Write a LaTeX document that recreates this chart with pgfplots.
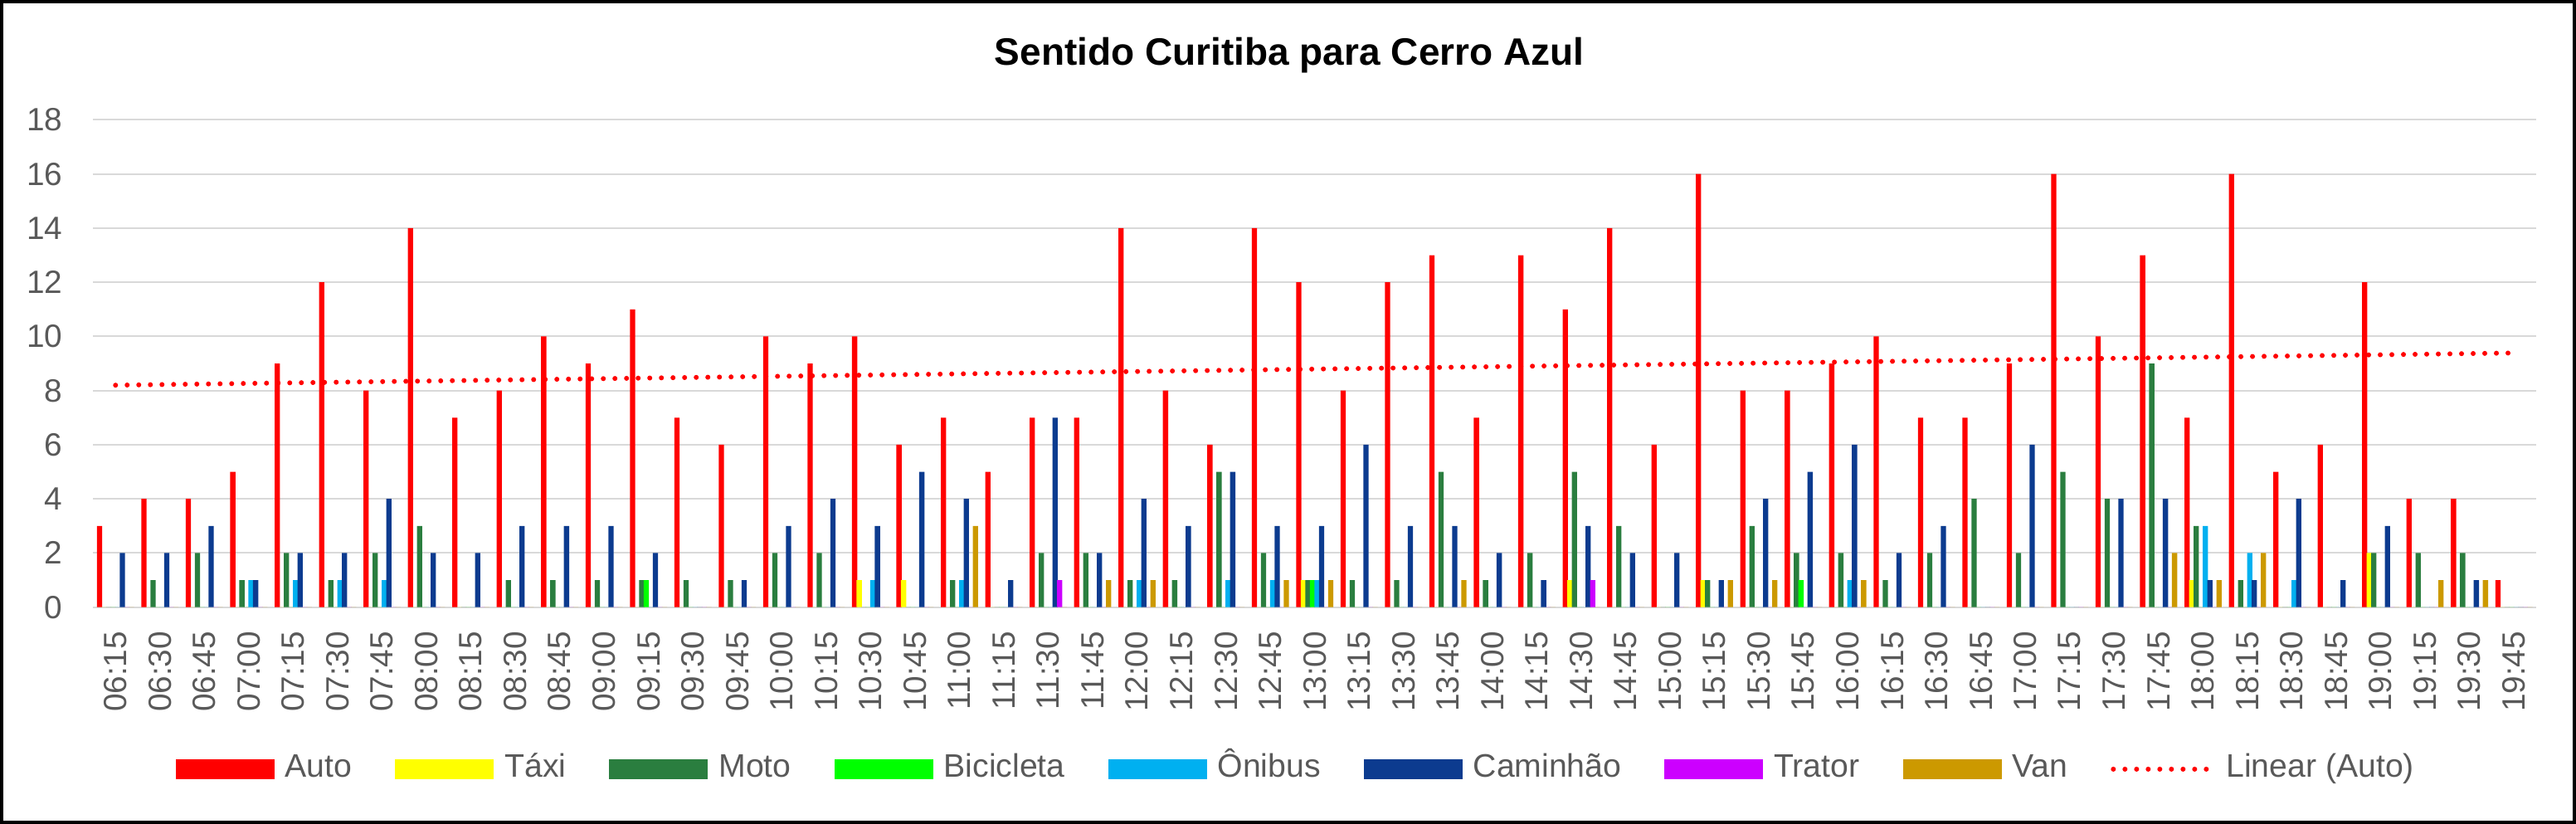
\documentclass[border=0pt]{standalone}
\usepackage{fontspec}
\setmainfont{Liberation Sans}
\usepackage{pgfplots}
\usepackage{pgfplotstable}
\pgfplotsset{compat=1.18}
\definecolor{cAuto}{HTML}{FF0000}
\definecolor{cTaxi}{HTML}{FFFF00}
\definecolor{cMoto}{HTML}{2A7E3F}
\definecolor{cBici}{HTML}{00FF00}
\definecolor{cOnib}{HTML}{00B0F0}
\definecolor{cCam}{HTML}{0C3B8F}
\definecolor{cTrat}{HTML}{CC00FF}
\definecolor{cVan}{HTML}{CC9900}
\definecolor{cText}{HTML}{595959}
\definecolor{cGrid}{HTML}{D9D9D9}
\pgfplotsset{barleg/.style={legend image code/.code={\fill[##1] (0pt,-3pt) rectangle (29.75pt,3pt);}},
  lineleg/.style={legend image code/.code={\draw[##1] (0pt,0pt) -- (30pt,0pt);}}}
\pgfplotstableread{
k a t m b o c r v
0 3 0 0 0 0 2 0 0
1 4 0 1 0 0 2 0 0
2 4 0 2 0 0 3 0 0
3 5 0 1 0 1 1 0 0
4 9 0 2 0 1 2 0 0
5 12 0 1 0 1 2 0 0
6 8 0 2 0 1 4 0 0
7 14 0 3 0 0 2 0 0
8 7 0 0 0 0 2 0 0
9 8 0 1 0 0 3 0 0
10 10 0 1 0 0 3 0 0
11 9 0 1 0 0 3 0 0
12 11 0 1 1 0 2 0 0
13 7 0 1 0 0 0 0 0
14 6 0 1 0 0 1 0 0
15 10 0 2 0 0 3 0 0
16 9 0 2 0 0 4 0 0
17 10 1 0 0 1 3 0 0
18 6 1 0 0 0 5 0 0
19 7 0 1 0 1 4 0 3
20 5 0 0 0 0 1 0 0
21 7 0 2 0 0 7 1 0
22 7 0 2 0 0 2 0 1
23 14 0 1 0 1 4 0 1
24 8 0 1 0 0 3 0 0
25 6 0 5 0 1 5 0 0
26 14 0 2 0 1 3 0 1
27 12 1 1 1 1 3 0 1
28 8 0 1 0 0 6 0 0
29 12 0 1 0 0 3 0 0
30 13 0 5 0 0 3 0 1
31 7 0 1 0 0 2 0 0
32 13 0 2 0 0 1 0 0
33 11 1 5 0 0 3 1 0
34 14 0 3 0 0 2 0 0
35 6 0 0 0 0 2 0 0
36 16 1 1 0 0 1 0 1
37 8 0 3 0 0 4 0 1
38 8 0 2 1 0 5 0 0
39 9 0 2 0 1 6 0 1
40 10 0 1 0 0 2 0 0
41 7 0 2 0 0 3 0 0
42 7 0 4 0 0 0 0 0
43 9 0 2 0 0 6 0 0
44 16 0 5 0 0 0 0 0
45 10 0 4 0 0 4 0 0
46 13 0 9 0 0 4 0 2
47 7 1 3 0 3 1 0 1
48 16 0 1 0 2 1 0 2
49 5 0 0 0 1 4 0 0
50 6 0 0 0 0 1 0 0
51 12 2 2 0 0 3 0 0
52 4 0 2 0 0 0 0 1
53 4 0 2 0 0 1 0 1
54 1 0 0 0 0 0 0 0
}\data
\pgfplotstableread{
k y
0 8.20
54 9.39
}\trend
\begin{document}
\begin{tikzpicture}
\begin{axis}[
  at={(0,0)}, anchor=south west,
  scale only axis, width=736.1pt, height=146.8pt,
  ybar=-0.2pt, bar width=1.575pt,
  xmin=-0.5, xmax=54.5, ymin=0, ymax=18,
  ytick={0,2,...,18},
  xtick={0,...,54},
  xticklabels={06:15,06:30,06:45,07:00,07:15,07:30,07:45,08:00,08:15,08:30,08:45,09:00,09:15,09:30,09:45,10:00,10:15,10:30,10:45,11:00,11:15,11:30,11:45,12:00,12:15,12:30,12:45,13:00,13:15,13:30,13:45,14:00,14:15,14:30,14:45,15:00,15:15,15:30,15:45,16:00,16:15,16:30,16:45,17:00,17:15,17:30,17:45,18:00,18:15,18:30,18:45,19:00,19:15,19:30,19:45},
  axis line style={draw=none},
  major tick length=0pt,
  ymajorgrids, grid style={color=cGrid, line width=0.5pt},
  /pgf/number format/assume math mode=true,
  ticklabel style={font=\fontsize{9.7}{11}\selectfont, text=cText},
  yticklabel style={anchor=east, inner sep=0pt, xshift=-9.1pt},
  xticklabel style={yshift=-7.1pt, rotate=90, anchor=east, inner sep=0pt},
  legend columns=9,
  legend style={at={(axis description cs:0.4919,-0.3325)}, anchor=center, draw=none, fill=none,
    font=\fontsize{9.8}{11}\selectfont, text=cText, nodes={inner sep=0pt, text height=7pt, text depth=2pt},
    /tikz/every odd column/.append style={column sep=3.25pt},
    /tikz/every even column/.append style={column sep=13pt}},
]
\addplot[fill=cAuto, draw=none, barleg] table[x=k,y=a]{\data};
\addlegendentry{Auto}
\addplot[fill=cTaxi, draw=none, barleg] table[x=k,y=t]{\data};
\addlegendentry{Táxi}
\addplot[fill=cMoto, draw=none, barleg] table[x=k,y=m]{\data};
\addlegendentry{Moto}
\addplot[fill=cBici, draw=none, barleg] table[x=k,y=b]{\data};
\addlegendentry{Bicicleta}
\addplot[fill=cOnib, draw=none, barleg] table[x=k,y=o]{\data};
\addlegendentry{Ônibus}
\addplot[fill=cCam, draw=none, barleg] table[x=k,y=c]{\data};
\addlegendentry{Caminhão}
\addplot[fill=cTrat, draw=none, barleg] table[x=k,y=r]{\data};
\addlegendentry{Trator}
\addplot[fill=cVan, draw=none, barleg] table[x=k,y=v]{\data};
\addlegendentry{Van}
\addplot[sharp plot, draw=cAuto, line width=1.5pt, dash pattern=on 0pt off 3.5pt, line cap=round, lineleg] table[x=k,y=y]{\trend};
\addlegendentry{Linear (Auto)}
\end{axis}
\node[anchor=base, font=\bfseries\fontsize{11.5}{13}\selectfont] at (360.4pt,163.3pt) {Sentido Curitiba para Cerro Azul};
\draw[line width=1pt] (-27.625pt,-64.825pt) rectangle (747.625pt,182.425pt);
\pgfresetboundingbox
\useasboundingbox (-28.125pt,-65.325pt) rectangle (748.125pt,182.925pt);
\end{tikzpicture}
\end{document}
